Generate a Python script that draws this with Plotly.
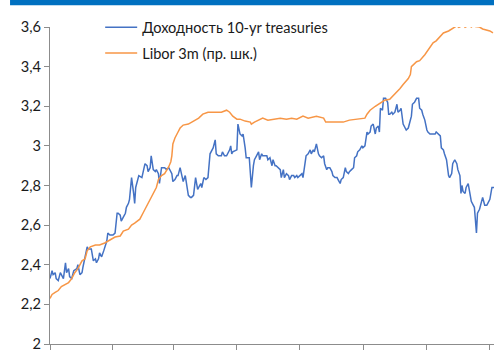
import plotly.graph_objects as go

# 10-year US Treasury yield, % (left scale)
ust_dates = [
    "2017-11-16", "2017-11-18", "2017-11-19", "2017-11-21", "2017-11-22", "2017-11-24", "2017-11-26", "2017-11-29",
    "2017-12-01", "2017-12-02", "2017-12-04", "2017-12-05", "2017-12-07", "2017-12-09", "2017-12-12", "2017-12-13",
    "2017-12-15", "2017-12-17", "2017-12-18", "2017-12-20", "2017-12-22", "2017-12-23", "2017-12-26", "2017-12-28",
    "2017-12-30", "2017-12-31",
    "2018-01-02", "2018-01-03", "2018-01-05", "2018-01-07", "2018-01-08", "2018-01-10", "2018-01-11", "2018-01-13",
    "2018-01-16", "2018-01-18", "2018-01-20", "2018-01-21", "2018-01-23", "2018-01-24", "2018-01-26", "2018-01-28",
    "2018-01-29", "2018-01-31",
    "2018-02-01", "2018-02-03", "2018-02-05", "2018-02-06", "2018-02-07", "2018-02-09", "2018-02-10", "2018-02-13",
    "2018-02-14", "2018-02-16", "2018-02-18", "2018-02-19", "2018-02-21", "2018-02-22", "2018-02-24", "2018-02-26",
    "2018-02-27",
    "2018-03-01", "2018-03-02", "2018-03-03", "2018-03-04", "2018-03-07", "2018-03-09", "2018-03-11", "2018-03-12",
    "2018-03-14", "2018-03-15", "2018-03-17", "2018-03-19", "2018-03-20", "2018-03-22", "2018-03-23", "2018-03-25",
    "2018-03-27", "2018-03-28", "2018-03-30",
    "2018-04-01", "2018-04-02", "2018-04-04", "2018-04-05", "2018-04-06", "2018-04-08", "2018-04-09", "2018-04-11",
    "2018-04-12", "2018-04-14", "2018-04-16", "2018-04-18", "2018-04-20", "2018-04-23", "2018-04-25", "2018-04-26",
    "2018-04-28",
    "2018-05-01", "2018-05-02", "2018-05-04", "2018-05-06", "2018-05-09", "2018-05-10", "2018-05-11", "2018-05-12",
    "2018-05-16", "2018-05-17", "2018-05-19", "2018-05-21", "2018-05-22", "2018-05-24", "2018-05-25", "2018-05-28",
    "2018-05-30",
    "2018-06-01", "2018-06-02", "2018-06-04", "2018-06-06", "2018-06-07", "2018-06-09", "2018-06-10", "2018-06-12",
    "2018-06-14", "2018-06-15", "2018-06-17", "2018-06-19", "2018-06-20", "2018-06-22", "2018-06-23", "2018-06-27",
    "2018-06-28", "2018-06-30",
    "2018-07-01", "2018-07-03", "2018-07-05", "2018-07-06", "2018-07-08", "2018-07-10", "2018-07-11", "2018-07-13",
    "2018-07-14", "2018-07-16", "2018-07-18", "2018-07-19", "2018-07-21", "2018-07-22", "2018-07-24", "2018-07-26",
    "2018-07-27", "2018-07-29", "2018-07-30",
    "2018-08-01", "2018-08-03", "2018-08-04", "2018-08-06", "2018-08-08", "2018-08-09", "2018-08-11", "2018-08-12",
    "2018-08-14", "2018-08-16", "2018-08-17", "2018-08-19", "2018-08-21", "2018-08-22", "2018-08-24", "2018-08-25",
    "2018-08-27", "2018-08-29", "2018-08-30",
    "2018-09-01", "2018-09-02", "2018-09-04", "2018-09-06", "2018-09-07", "2018-09-09", "2018-09-10", "2018-09-12",
    "2018-09-14", "2018-09-15", "2018-09-17", "2018-09-19", "2018-09-20", "2018-09-22", "2018-09-23", "2018-09-25",
    "2018-09-27", "2018-09-28", "2018-09-30",
    "2018-10-01", "2018-10-02", "2018-10-04", "2018-10-05", "2018-10-07", "2018-10-09", "2018-10-10", "2018-10-11",
    "2018-10-13", "2018-10-14", "2018-10-16", "2018-10-18", "2018-10-19", "2018-10-21", "2018-10-22", "2018-10-24",
    "2018-10-26", "2018-10-27", "2018-10-29", "2018-10-31",
    "2018-11-01", "2018-11-02", "2018-11-04", "2018-11-06", "2018-11-08", "2018-11-09", "2018-11-11", "2018-11-12",
    "2018-11-14", "2018-11-16", "2018-11-17", "2018-11-19", "2018-11-21", "2018-11-22", "2018-11-24", "2018-11-25",
    "2018-11-27", "2018-11-29", "2018-11-30",
    "2018-12-02", "2018-12-03", "2018-12-05", "2018-12-07", "2018-12-08", "2018-12-10", "2018-12-11", "2018-12-13",
    "2018-12-15", "2018-12-16", "2018-12-18", "2018-12-19", "2018-12-20", "2018-12-21", "2018-12-23", "2018-12-24",
    "2018-12-26", "2018-12-28", "2018-12-29", "2018-12-31",
    "2019-01-01", "2019-01-03", "2019-01-04", "2019-01-06", "2019-01-07", "2019-01-08", "2019-01-09", "2019-01-11",
    "2019-01-13", "2019-01-14", "2019-01-16", "2019-01-18", "2019-01-20",
]
ust_yield = [
    2.33, 2.37, 2.35, 2.36, 2.33, 2.32, 2.36, 2.33,
    2.41, 2.36, 2.38, 2.34, 2.33, 2.37, 2.38, 2.40, 2.35, 2.36, 2.39, 2.44, 2.49, 2.48, 2.48, 2.42, 2.43, 2.41,
    2.43, 2.46, 2.44, 2.47, 2.49, 2.52, 2.56, 2.55, 2.55, 2.56, 2.66, 2.66, 2.65, 2.62, 2.64, 2.66, 2.69, 2.71,
    2.73, 2.84, 2.76, 2.71, 2.79, 2.84, 2.85, 2.84, 2.86, 2.91, 2.90, 2.87, 2.89, 2.95, 2.88, 2.87, 2.88,
    2.86, 2.81, 2.85, 2.89, 2.89, 2.88, 2.89, 2.88, 2.86, 2.82, 2.83, 2.85, 2.85, 2.89, 2.86, 2.82, 2.85, 2.81, 2.75,
    2.74, 2.74, 2.75, 2.79, 2.84, 2.78, 2.79, 2.81, 2.79, 2.84, 2.83, 2.84, 2.96, 2.99, 3.03, 2.96, 2.95,
    2.95, 2.97, 2.95, 2.95, 2.98, 3.00, 2.96, 2.97, 2.98, 3.11, 3.06, 3.05, 3.06, 2.99, 2.94, 2.94, 2.79,
    2.90, 2.93, 2.95, 2.97, 2.93, 2.96, 2.95, 2.95, 2.95, 2.93, 2.94, 2.90, 2.93, 2.90, 2.90, 2.88, 2.84, 2.88,
    2.84, 2.86, 2.85, 2.83, 2.85, 2.85, 2.84, 2.85, 2.84, 2.85, 2.86, 2.84, 2.93, 2.95, 2.96, 2.98, 2.96, 2.98, 2.97,
    3.01, 2.96, 2.95, 2.94, 2.95, 2.91, 2.88, 2.89, 2.89, 2.87, 2.85, 2.84, 2.84, 2.83, 2.81, 2.83, 2.84, 2.89, 2.87,
    2.86, 2.87, 2.88, 2.89, 2.94, 2.95, 2.97, 2.98, 3.00, 2.99, 3.00, 3.07, 3.06, 3.07, 3.10, 3.11, 3.06, 3.09, 3.10,
    3.07, 3.19, 3.18, 3.24, 3.24, 3.22, 3.16, 3.16, 3.17, 3.16, 3.17, 3.21, 3.17, 3.18, 3.19, 3.11, 3.09, 3.08, 3.09, 3.14,
    3.15, 3.21, 3.22, 3.24, 3.24, 3.19, 3.18, 3.16, 3.13, 3.08, 3.07, 3.06, 3.06, 3.06, 3.06, 3.07, 3.06, 3.05, 2.99,
    2.98, 2.96, 2.93, 2.85, 2.84, 2.86, 2.91, 2.93, 2.91, 2.88, 2.85, 2.76, 2.80, 2.77, 2.76, 2.79, 2.81, 2.75, 2.72, 2.70,
    2.69, 2.56, 2.66, 2.68, 2.70, 2.73, 2.74, 2.70, 2.70, 2.71, 2.73, 2.79, 2.79,
]

# 3-month USD Libor, % (right scale)
libor_dates = [
    "2017-11-16", "2017-11-18", "2017-11-21", "2017-11-24", "2017-11-27",
    "2017-12-01", "2017-12-04", "2017-12-07", "2017-12-10", "2017-12-13", "2017-12-17", "2017-12-20", "2017-12-22",
    "2017-12-25", "2017-12-30",
    "2018-01-03", "2018-01-08", "2018-01-13", "2018-01-18", "2018-01-23", "2018-01-26", "2018-01-31",
    "2018-02-03", "2018-02-06", "2018-02-11", "2018-02-14", "2018-02-17", "2018-02-19", "2018-02-22", "2018-02-24",
    "2018-02-27",
    "2018-03-01", "2018-03-04", "2018-03-07", "2018-03-11", "2018-03-13", "2018-03-14", "2018-03-15", "2018-03-17",
    "2018-03-20", "2018-03-22", "2018-03-25", "2018-03-30",
    "2018-04-04", "2018-04-09", "2018-04-13", "2018-04-18", "2018-04-25",
    "2018-05-01", "2018-05-06", "2018-05-09", "2018-05-12", "2018-05-16", "2018-05-19", "2018-05-24", "2018-05-29",
    "2018-05-30",
    "2018-06-02", "2018-06-06", "2018-06-10", "2018-06-15", "2018-06-20", "2018-06-27",
    "2018-07-03", "2018-07-08", "2018-07-13", "2018-07-19", "2018-07-24",
    "2018-08-01", "2018-08-08", "2018-08-10", "2018-08-14", "2018-08-21", "2018-08-27",
    "2018-09-02", "2018-09-09", "2018-09-17", "2018-09-19", "2018-09-22", "2018-09-27",
    "2018-10-01", "2018-10-06", "2018-10-11", "2018-10-16", "2018-10-21", "2018-10-24", "2018-10-29", "2018-10-31",
    "2018-11-01", "2018-11-06", "2018-11-09", "2018-11-14", "2018-11-19", "2018-11-22", "2018-11-25", "2018-11-29",
    "2018-12-02", "2018-12-07", "2018-12-10", "2018-12-13", "2018-12-15", "2018-12-17", "2018-12-19", "2018-12-21",
    "2018-12-23", "2018-12-25", "2018-12-27", "2018-12-29", "2018-12-31",
    "2019-01-02", "2019-01-04", "2019-01-06", "2019-01-09", "2019-01-13", "2019-01-16", "2019-01-19",
]
libor_3m = [
    1.43, 1.45, 1.46, 1.47, 1.49,
    1.50, 1.51, 1.53, 1.56, 1.58, 1.62, 1.63, 1.67, 1.69, 1.70,
    1.70, 1.71, 1.725, 1.74, 1.745, 1.77, 1.78,
    1.80, 1.81, 1.83, 1.86, 1.89, 1.91, 1.94, 1.96, 1.99,
    2.03, 2.05, 2.06, 2.095, 2.12, 2.15, 2.21, 2.24, 2.27, 2.29, 2.305, 2.31,
    2.325, 2.34, 2.36, 2.37, 2.37,
    2.37, 2.38, 2.37, 2.35, 2.335, 2.335, 2.325, 2.32, 2.31,
    2.32, 2.33, 2.34, 2.33, 2.335, 2.34,
    2.335, 2.34, 2.335, 2.35, 2.34,
    2.35, 2.34, 2.32, 2.32, 2.32, 2.32,
    2.33, 2.335, 2.34, 2.36, 2.38, 2.40,
    2.415, 2.43, 2.435, 2.46, 2.49, 2.51, 2.54, 2.56,
    2.60, 2.625, 2.63, 2.66, 2.70, 2.72, 2.73, 2.75,
    2.77, 2.78, 2.79, 2.80, 2.806, 2.798, 2.805, 2.81, 2.799, 2.806, 2.81, 2.80, 2.808,
    2.803, 2.80, 2.80, 2.79, 2.785, 2.78, 2.77,
]

# bimonthly date ticks on the time axis
x_ticks = ["2017-11-16", "2018-01-16", "2018-03-16", "2018-05-16",
           "2018-07-16", "2018-09-16", "2018-11-16", "2019-01-16"]
y_ticks = [2.0, 2.2, 2.4, 2.6, 2.8, 3.0, 3.2, 3.4, 3.6]

names = ["Доходность 10-yr treasuries", "Libor 3m (пр. шк.)"]

BLUE = "#4472C4"
ORANGE = "#F79646"
AXIS = "#8C8C8C"
FONT = "Lato, 'Noto Sans', sans-serif"
FS = 14.6

fig = go.Figure()
fig.add_trace(go.Scatter(
    x=ust_dates, y=ust_yield, name=names[0], mode="lines",
    line=dict(color=BLUE, width=1.5), legendgroup="a",
))
fig.add_trace(go.Scatter(
    x=libor_dates, y=libor_3m, name=names[1], mode="lines",
    line=dict(color=ORANGE, width=1.5), yaxis="y2", legendgroup="b",
))

fig.update_layout(
    width=494, height=359,
    margin=dict(l=50, r=0, t=27, b=15),
    paper_bgcolor="white", plot_bgcolor="white",
    separators=", ",
    font=dict(family=FONT, size=FS, color="#1a1a1a"),
    showlegend=True,
    legend=dict(
        x=0.113, y=1.05, xanchor="left", yanchor="top",
        bgcolor="rgba(0,0,0,0)", font=dict(size=FS, color="#1a1a1a"),
        tracegroupgap=4, traceorder="grouped", itemwidth=32,
    ),
    xaxis=dict(
        type="date", range=["2017-11-16", "2019-01-20"],
        showgrid=False, zeroline=False,
        showline=True, linecolor=AXIS, linewidth=1,
        ticks="outside", ticklen=5, tickcolor=AXIS,
        tickvals=x_ticks, showticklabels=False,
    ),
    yaxis=dict(
        range=[2.0, 3.6], tickvals=y_ticks,
        showgrid=False, zeroline=False,
        showline=True, linecolor=AXIS, linewidth=1,
        ticks="outside", ticklen=5, tickcolor=AXIS,
        tickfont=dict(size=FS, color="#1a1a1a"),
    ),
    yaxis2=dict(
        range=[1.2, 2.8], overlaying="y", side="right",
        visible=False, showgrid=False, zeroline=False,
    ),
    shapes=[dict(
        type="rect", xref="paper", yref="paper",
        x0=-0.09, x1=1.0, y0=1.069, y1=1.1,
        fillcolor="#0070C0", line=dict(width=0), layer="above",
    )],
)

fig.write_html("out.html")
